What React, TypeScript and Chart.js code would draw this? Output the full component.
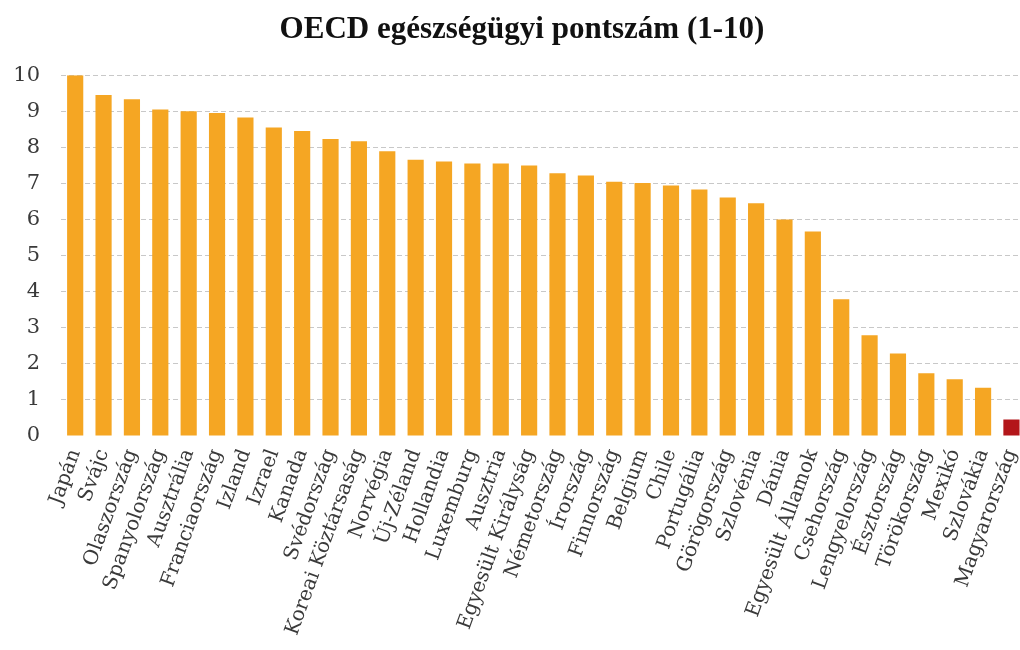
import React, { useEffect, useRef } from "react";
import { Chart, registerables } from "chart.js";

Chart.register(...registerables);

const countries: string[] = [
  "Japán", "Svájc", "Olaszország", "Spanyolország", "Ausztrália", "Franciaország",
  "Izland", "Izrael", "Kanada", "Svédország", "Koreai Köztársaság", "Norvégia",
  "Új-Zéland", "Hollandia", "Luxemburg", "Ausztria", "Egyesült Királyság",
  "Németország", "Írország", "Finnország", "Belgium", "Chile", "Portugália",
  "Görögország", "Szlovénia", "Dánia", "Egyesült Államok", "Csehország",
  "Lengyelország", "Észtország", "Törökország", "Mexikó", "Szlovákia", "Magyarország",
];

const scores: number[] = [
  10.0, 9.45, 9.33, 9.05, 9.0, 8.95,
  8.83, 8.55, 8.45, 8.23, 8.17, 7.89,
  7.66, 7.61, 7.55, 7.55, 7.5,
  7.28, 7.22, 7.05, 7.01, 6.94, 6.83,
  6.61, 6.45, 6.0, 5.67, 3.79,
  2.79, 2.29, 1.74, 1.57, 1.34, 0.46,
];

const yTicks: number[] = [0, 1, 2, 3, 4, 5, 6, 7, 8, 9, 10];

const highlighted = "Magyarország";
const titleText = "OECD egészségügyi pontszám (1-10)";

export default function App() {
  const ref = useRef<HTMLCanvasElement | null>(null);

  useEffect(() => {
    if (!ref.current) return;
    const colors = countries.map((c) => (c === highlighted ? "#B3161A" : "#F5A623"));
    const chart = new Chart(ref.current, {
      type: "bar",
      data: {
        labels: countries,
        datasets: [
          {
            data: scores,
            backgroundColor: colors,
            borderWidth: 0,
            categoryPercentage: 1,
            barPercentage: 0.57,
          },
        ],
      },
      options: {
        animation: false,
        responsive: false,
        devicePixelRatio: 1,
        layout: { padding: { left: 0, right: 0, top: 0, bottom: 0 } },
        plugins: {
          legend: { display: false },
          tooltip: { enabled: false },
          title: {
            display: true,
            text: titleText,
            color: "#111",
            font: { family: "'Liberation Serif', serif", size: 31, weight: "bold" },
            padding: { top: 11, bottom: 27 },
          },
        },
        scales: {
          x: {
            grid: { display: false, drawTicks: false },
            border: { display: false },
            ticks: {
              autoSkip: false,
              minRotation: 70,
              maxRotation: 70,
              padding: 10,
              color: "#3a3a3a",
              font: { family: "'DejaVu Serif', serif", size: 20 },
            },
            afterFit: (scale: any) => {
              scale.height = 214;
            },
          },
          y: {
            min: 0,
            max: 10,
            afterBuildTicks: (scale: any) => {
              scale.ticks = yTicks.map((v) => ({ value: v }));
            },
            grid: {
              drawTicks: false,
              color: (ctx: any) =>
                ctx.tick && ctx.tick.value === 0 ? "rgba(0,0,0,0)" : "#c8c8c8",
              lineWidth: 1,
            },
            border: { display: false, dash: [5, 3] },
            ticks: {
              padding: 21,
              crossAlign: "near",
              color: "#3a3a3a",
              font: { family: "'DejaVu Serif', serif", size: 21 },
            },
            afterFit: (scale: any) => {
              scale.width = 61;
            },
          },
        },
      },
    });
    return () => chart.destroy();
  }, []);

  return (
    <div
      style={{
        position: "fixed",
        left: 0,
        top: 0,
        width: 1020,
        height: 650,
        overflow: "hidden",
        background: "#fff",
      }}
    >
      <canvas
        ref={ref}
        width={1044}
        height={650}
        style={{ display: "block", width: 1044, height: 650 }}
      />
    </div>
  );
}
